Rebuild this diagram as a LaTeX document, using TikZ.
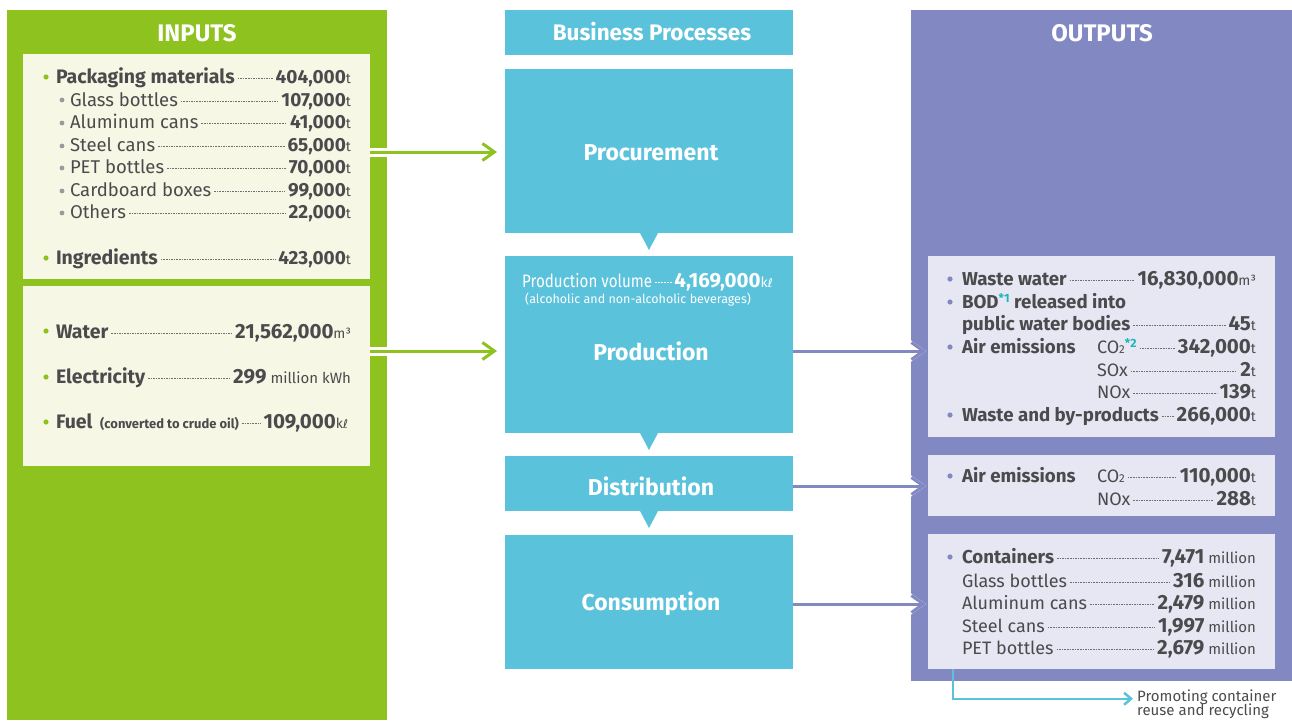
\documentclass[tikz,border=0pt]{standalone}
\usepackage{fontspec}
\setmainfont{Fira Sans}
\newfontfamily\dvs{DejaVu Sans}
\usetikzlibrary{arrows.meta}
\definecolor{ggreen}{HTML}{8EC31F}
\definecolor{cream}{HTML}{F6F7E4}
\definecolor{bpc}{HTML}{5BC2DC}
\definecolor{ppl}{HTML}{8288C2}
\definecolor{lav}{HTML}{E6E7F3}
\definecolor{txt}{HTML}{4B4B4D}
\definecolor{gbul}{HTML}{9A9A9C}
\definecolor{tealc}{HTML}{1EB5B8}
\newcommand\fs[1]{\fontsize{#1}{#1}\selectfont}
\newcommand\un[1]{{\fs{14}\mdseries #1}}
\newcommand\vl[1]{{\fs{19}\bfseries #1}}
\newcommand\rv[1]{{\fs{20.5}\bfseries #1}}
\newcommand\mil{{\fs{15}\mdseries\ million}}
\newcommand\kl{{\fs{14}\mdseries k{\dvs\fs{12}ℓ}}}
\newcommand\astr[1]{\raisebox{6pt}{\fs{12}\bfseries\color{tealc}*#1}}
\newcommand\cotwo{CO{\fs{11.5}2}}
\tikzset{
  bx/.style={rectangle,inner sep=0pt,outer sep=0pt,draw=none},
  lbl/.style={inner sep=0pt,outer sep=0pt,text=txt,font=\fs{18}},
  lreg/.style={lbl,font=\fs{18.5}},
  lbold/.style={lbl,font=\fs{19.5}\bfseries},
  rreg/.style={lbl,font=\fs{18}},
  rbold/.style={lbl,font=\fs{18.7}\bfseries},
  ttl/.style={inner sep=0pt,text=white,font=\fs{23}\bfseries},
  bigttl/.style={inner sep=0pt,text=white,font=\fs{24}\bfseries},
  leader/.style={draw=txt!80,line width=0.6pt,dash pattern=on 1.6pt off 1pt},
  garrow/.style={draw=ggreen,line width=3pt,-{Straight Barb[length=12pt,width=17pt,line width=3pt]}},
  parrow/.style={draw=ppl,line width=3pt,-{Straight Barb[length=12pt,width=17pt,line width=3pt]}},
  pwhite/.style={draw=white,line width=8pt,-{Straight Barb[length=12pt,width=17pt,line width=8pt]}},
}
% name, xlabel, ybase, label, xend, value, label style
\newcommand\lrow[7]{%
  \node[#7,anchor=base west] (#1l) at (#2,#3) {#4};
  \node[lbl,anchor=base east] (#1v) at (#5,#3) {#6};
  \draw[leader] ([xshift=3pt,yshift=4.5pt]#1l.base east) -- ([xshift=-3pt,yshift=4.5pt]#1v.base west);
}
\begin{document}
\begin{tikzpicture}[x=1pt,y=-1pt]
\useasboundingbox (0,0) rectangle (1292,720);
% ---------- panels ----------
\node[bx,fill=ggreen,minimum width=380pt,minimum height=710pt] (inpanel) at (197,365) {};
\node[bx,fill=cream,minimum width=347pt,minimum height=225pt] (inbox1) at (196.5,166.5) {};
\node[bx,fill=cream,minimum width=347pt,minimum height=180pt] (inbox2) at (196.5,376) {};
\node[bigttl] (intitle) at (197,33) {INPUTS};

\node[bx,fill=ppl,minimum width=381pt,minimum height=671pt] (outpanel) at (1101.5,345.5) {};
\node[bx,fill=lav,minimum width=347pt,minimum height=181pt] (outbox1) at (1101.5,346.5) {};
\node[bx,fill=lav,minimum width=347pt,minimum height=61pt] (outbox2) at (1101.5,485.5) {};
\node[bx,fill=lav,minimum width=347pt,minimum height=135pt] (outbox3) at (1101.5,601.5) {};
\node[bigttl] (outtitle) at (1102,33) {OUTPUTS};

\node[bx,fill=bpc,minimum width=288pt,minimum height=45pt] (header) at (649,32.5) {};
\node[ttl,font=\fs{22.5}\bfseries] (headert) at (652,32) {Business Processes};
\node[bx,fill=bpc,minimum width=288pt,minimum height=164pt] (proc) at (649,151) {};
\node[bx,fill=bpc,minimum width=288pt,minimum height=177pt] (prod) at (649,344.5) {};
\node[bx,fill=bpc,minimum width=288pt,minimum height=55pt] (dist) at (649,483.5) {};
\node[bx,fill=bpc,minimum width=288pt,minimum height=134pt] (cons) at (649,602) {};
\foreach \b in {proc,prod,dist}{
  \fill[bpc] ([xshift=-9pt]\b.south) -- ([xshift=9pt]\b.south) -- ([yshift=-17pt]\b.south) -- cycle;
}
\node[ttl] (procl) at (651,153) {Procurement};
\node[ttl] (prodl) at (651,351) {Production};
\node[ttl] (distl) at (651,486) {Distribution};
\node[ttl] (consl) at (651,604) {Consumption};

% production volume
\node[inner sep=0pt,anchor=base west,text=white] (pvl) at (522,287) {\scalebox{0.84}[1]{\fs{18}Production volume}};
\node[inner sep=0pt,anchor=base east,text=white] (pvv) at (773,287) {\rv{4,169,000}{\color{white}\kl}};
\draw[draw=white,line width=0.6pt,dash pattern=on 2pt off 1pt] ([xshift=3pt,yshift=4.5pt]pvl.base east) -- ([xshift=-2pt,yshift=4.5pt]pvv.base west);
\node[inner sep=0pt,anchor=base west,text=white,font=\fs{12.5}] (pvs) at (525,303) {(alcoholic and non-alcoholic beverages)};

% ---------- inputs rows ----------
\foreach \y in {77,258,331,377,422} \fill[ggreen] (46,\y) circle (2.6);
\foreach \y in {100,123,146,168,191,213} \fill[gbul] (62,\y) circle (2.4);
\lrow{pk}{56}{83}{Packaging materials}{351}{\vl{404,000}\un{t}}{lbold}
\lrow{gb}{70}{106}{Glass bottles}{351}{\vl{107,000}\un{t}}{lreg}
\lrow{al}{70}{128}{Aluminum cans}{351}{\vl{41,000}\un{t}}{lreg}
\lrow{st}{70}{151}{Steel cans}{351}{\vl{65,000}\un{t}}{lreg}
\lrow{pe}{70}{173}{PET bottles}{351}{\vl{70,000}\un{t}}{lreg}
\lrow{cb}{70}{196}{Cardboard boxes}{351}{\vl{99,000}\un{t}}{lreg}
\lrow{ot}{70}{218}{Others}{351}{\vl{22,000}\un{t}}{lreg}
\lrow{ig}{56}{264}{Ingredients}{351}{\vl{423,000}\un{t}}{lbold}
\lrow{wa}{56}{338}{Water}{351}{\rv{21,562,000}\un{m³}}{lbold}
\lrow{el}{56}{383}{Electricity}{351}{\rv{299}{\fs{15}\mdseries\ million kWh}}{lbold}
\lrow{fu}{56}{428}{Fuel {\fs{13} (converted to crude oil)}}{348}{\rv{109,000}\kl}{lbold}

% ---------- outputs rows ----------
\foreach \y in {279,302,347,415,476,557} \fill[ppl] (950,\y) circle (2.6);
\lrow{ww}{962}{285}{Waste water}{1256}{\rv{16,830,000}\un{m³}}{rbold}
\node[rbold,anchor=base west] (bod) at (962,308) {BOD\astr{1} released into};
\lrow{pw}{962}{330}{public water bodies}{1256}{\rv{45}\un{t}}{rbold}
\node[rbold,anchor=base west] (ae1) at (962,353) {Air emissions};
\lrow{co}{1097}{353}{\cotwo\astr{2}}{1256}{\rv{342,000}\un{t}}{rreg}
\lrow{so}{1097}{376}{SOx}{1256}{\rv{2}\un{t}}{rreg}
\lrow{no}{1097}{398}{NOx}{1256}{\rv{139}\un{t}}{rreg}
\lrow{wb}{962}{421}{Waste and by-products}{1256}{\rv{266,000}\un{t}}{rbold}

\node[rbold,anchor=base west] (ae2) at (962,482) {Air emissions};
\lrow{ct}{1097}{482}{\cotwo}{1256}{\rv{110,000}\un{t}}{rreg}
\lrow{nt}{1097}{505}{NOx}{1256}{\rv{288}\un{t}}{rreg}

\lrow{cn}{962}{563}{Containers}{1256}{\rv{7,471}\mil}{rbold}
\lrow{cg}{962}{587}{Glass bottles}{1256}{\rv{316}\mil}{rreg}
\lrow{ca}{962}{609}{Aluminum cans}{1256}{\rv{2,479}\mil}{rreg}
\lrow{cs}{962}{632}{Steel cans}{1256}{\rv{1,997}\mil}{rreg}
\lrow{cp}{962}{654}{PET bottles}{1256}{\rv{2,679}\mil}{rreg}

% ---------- connectors ----------
\coordinate (g1s) at (inbox1.east |- 0,152);
\coordinate (g1e) at ([xshift=-8pt]proc.west |- g1s);
\coordinate (g2s) at (inbox2.east |- prodl);
\coordinate (g2e) at ([xshift=-8pt]prod.west |- prodl);
\draw[white,line width=9pt] (g1s) -- ([xshift=18pt]g1s);
\draw[white,line width=9pt] (g2s) -- ([xshift=18pt]g2s);
\draw[garrow] (g1s) -- (g1e);
\draw[garrow] (g2s) -- (g2e);

\foreach \a/\b in {prod/prodl,dist/distl,cons/consl}{
  \coordinate (s\a) at (\a.east |- \b);
  \coordinate (e\a) at ([xshift=-2pt]outbox1.west |- \b);
  \draw[pwhite] ([xshift=-30pt]e\a) -- (e\a);
  \draw[parrow] (s\a) -- (e\a);
}

\node[inner sep=0pt,anchor=base west,text=txt,font=\fs{15}] (promo1) at (1137,701) {Promoting container};
\node[inner sep=0pt,anchor=base west,text=txt,font=\fs{15}] (promo2) at (1137,715.5) {reuse and recycling};
\coordinate (cyst) at (outbox3.south -| 953,0);
\draw[draw=bpc,line width=2.5pt,-{Straight Barb[length=7pt,width=12pt,line width=2.5pt]}] (cyst) |- ([xshift=-4pt,yshift=-2pt]promo1.west);
\end{tikzpicture}
\end{document}
